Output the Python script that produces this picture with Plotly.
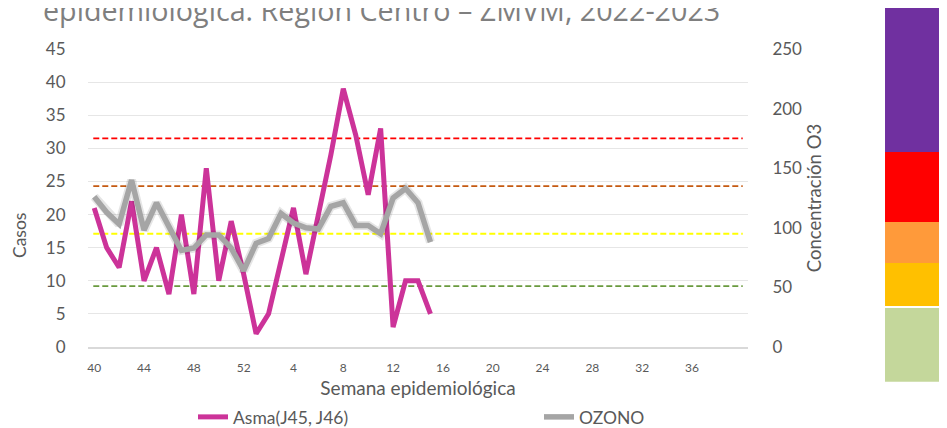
import plotly.graph_objects as go

# Epidemiological weeks 40-52 (2022) and 1-40 (2023)
weeks = [str(w) for w in list(range(40, 53)) + list(range(1, 41))]
tick_labels = weeks[::4]

asma = [21, 15, 12, 22, 10, 15, 8, 20, 8, 27, 10, 19, 11,
        2, 5, 13, 21, 11, 20, 29, 39, 32, 23, 33, 3, 10, 10, 5]
ozono = [126, 113, 103, 140, 98, 121, 101, 81, 83, 94, 94, 83, 64,
         87, 91, 112, 104, 100, 99, 118, 121, 102, 102, 95, 125, 133, 121, 88]

# Ozone air-quality limits (ppb)
limits = [51, 95, 135, 175]
limit_colors = ["#6A9A3E", "#FFFF00", "#C55A11", "#FF0000"]

# Right side colour scale blocks (paper y ranges)
band_colors = ["#C4D79B", "#FFC000", "#FF9A3A", "#FF0000", "#7030A0"]
band_y = [(-0.117, 0.131), (0.138, 0.282), (0.282, 0.4195), (0.4195, 0.6544), (0.6544, 1.14)]

FONT = "Lato"
TXT = "#595959"

fig = go.Figure()

fig.add_trace(go.Scatter(
    x=weeks[:len(asma)], y=asma, name="Asma(J45, J46)", mode="lines",
    line=dict(color="#CC3399", width=5), yaxis="y", legend="legend"))
fig.add_trace(go.Scatter(
    x=weeks[:len(ozono)], y=ozono, name="shadow", mode="lines", showlegend=False,
    hoverinfo="skip", line=dict(color="rgba(0,0,0,0.10)", width=9), yaxis="y2"))
fig.add_trace(go.Scatter(
    x=weeks[:len(ozono)], y=ozono, name="OZONO", mode="lines",
    line=dict(color="#A5A5A5", width=5.5), yaxis="y2", legend="legend2"))

shapes = []
for v, c in zip(limits, limit_colors):
    shapes.append(dict(type="line", xref="paper", yref="y2", x0=0.008, x1=0.992,
                       y0=v, y1=v, line=dict(color=c, width=1.8, dash="6px,3px"), layer="below"))
for c, (y0, y1) in zip(band_colors, band_y):
    shapes.append(dict(type="rect", xref="paper", yref="paper", x0=1.2076, x1=1.33,
                       y0=y0, y1=y1, fillcolor=c, line=dict(width=0), layer="above"))

leg_common = dict(orientation="h", xref="container", yref="container",
                  xanchor="left", yanchor="middle",
                  font=dict(size=17.5, color=TXT, family=FONT),
                  bgcolor="rgba(0,0,0,0)")

fig.update_layout(
    width=947, height=428,
    margin=dict(l=80, r=207, t=41, b=89, autoexpand=False),
    paper_bgcolor="white", plot_bgcolor="white",
    font=dict(family=FONT, color=TXT),
    shapes=shapes,
    showlegend=True,
    legend=dict(x=185 / 947, y=0.0444, **leg_common),
    legend2=dict(x=531 / 947, y=0.0444, **leg_common),
    xaxis=dict(type="category", categoryarray=weeks, range=[-0.5, len(weeks) - 0.5],
               tickvals=tick_labels, ticktext=tick_labels, automargin=False,
               ticks="outside", ticklen=9, tickcolor="rgba(0,0,0,0)",
               tickfont=dict(size=12, color=TXT),
               showgrid=False, showline=True, linecolor="#D9D9D9", linewidth=1.5,
               title=dict(text="Semana epidemiológica", font=dict(size=19, color=TXT), standoff=8)),
    yaxis=dict(range=[0, 45], tickvals=list(range(0, 46, 5)), automargin=False,
               ticks="outside", ticklen=18, tickcolor="rgba(0,0,0,0)",
               tickfont=dict(size=17, color=TXT),
               showgrid=True, gridcolor="#E6E6E6", gridwidth=1, zeroline=False),
    yaxis2=dict(range=[0, 250], tickvals=list(range(0, 251, 50)), overlaying="y", side="right",
                anchor="x", automargin=False, ticks="outside", ticklen=20,
                tickcolor="rgba(0,0,0,0)",
                tickfont=dict(size=17, color=TXT), showgrid=False, zeroline=False,
                title=dict(text="Concentración O3", font=dict(size=18.5, color=TXT), standoff=6)),
    annotations=[
        dict(text="epidemiológica. Región Centro – ZMVM, 2022-2023",
             xref="paper", yref="paper", x=-0.0712, y=1.060,
             xanchor="left", yanchor="bottom", showarrow=False,
             font=dict(family="Open Sans", size=28.7, color="#7F7F7F")),
        dict(text="Casos", xref="paper", yref="paper", x=-0.103, y=0.3725,
             xanchor="center", yanchor="middle", textangle=-90, showarrow=False,
             font=dict(family=FONT, size=17.5, color=TXT)),
    ],
)

fig.write_html("out.html")
